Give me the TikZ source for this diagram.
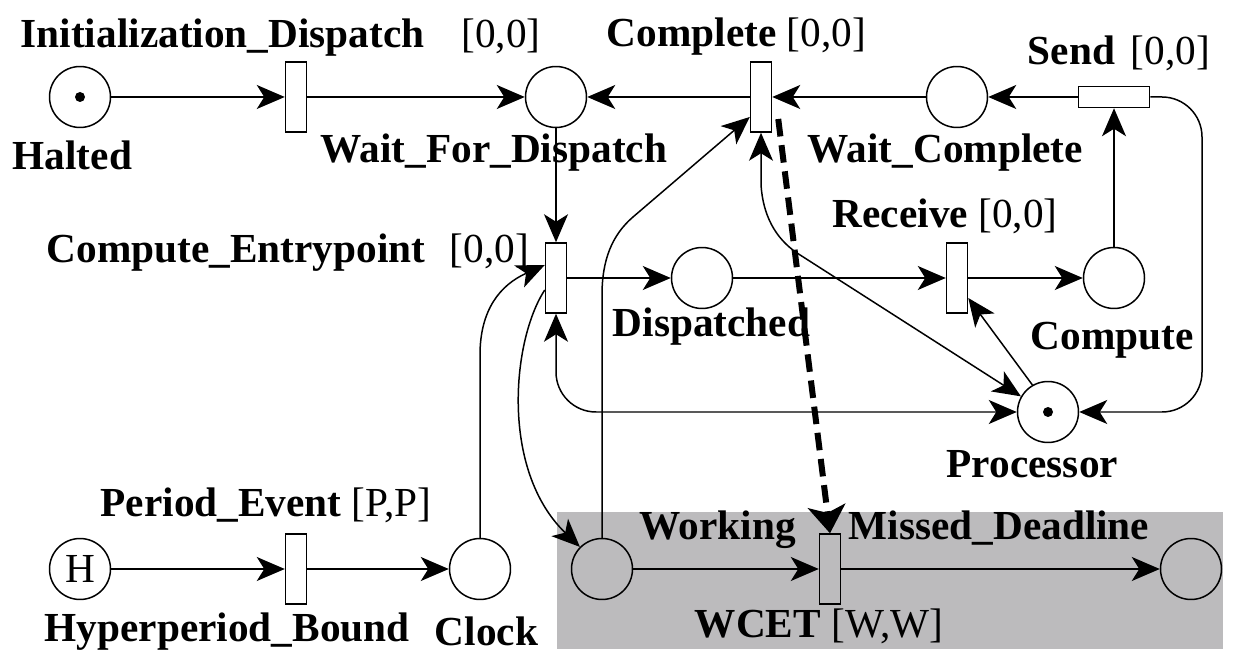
\documentclass[tikz,border=0pt]{standalone}
\usepackage{fontspec}
\setmainfont{Liberation Serif}
\usetikzlibrary{arrows.meta,calc}
\newcommand{\petrifont}{\fontsize{23.5}{28}\selectfont}
\definecolor{boxgray}{RGB}{188,187,189}

\begin{document}
\begin{tikzpicture}[x=0.02cm,y=-0.02cm,line width=0.85pt,
        place/.style={circle,draw,minimum size=1.22cm,inner sep=0pt,font=\petrifont},
        trans/.style={rectangle,draw,minimum width=0.42cm,minimum height=1.4cm,inner sep=0pt},
        htrans/.style={rectangle,draw,minimum width=1.42cm,minimum height=0.42cm,inner sep=0pt},
        lbl/.style={anchor=base west,inner sep=0pt,font=\petrifont\bfseries},
        arc/.style={-{Stealth[length=0.56cm,width=0.48cm,inset=0.15cm]}},
        biarc/.style={{Stealth[length=0.56cm,width=0.48cm,inset=0.15cm]}-{Stealth[length=0.56cm,width=0.48cm,inset=0.15cm]}},
        deadline/.style={line width=0.12cm,dash pattern=on 10pt off 5pt,-{Stealth[length=0.55cm,width=0.75cm,inset=0.14cm]}}]
        \useasboundingbox (0,0) rectangle (1247,661);
        \fill [boxgray] (557,512) rectangle (1223,649);

        \node [place] (Halted) at (80,97) {};
        \node [trans] (InitDispatch) at (296,97) {};
        \node [place] (WaitDispatch) at (556,97) {};
        \node [trans] (Complete) at (761,97) {};
        \node [place] (WaitComplete) at (957,97) {};
        \node [htrans] (Send) at (1114,97) {};
        \node [trans] (ComputeEntry) at (556,278) {};
        \node [place] (Dispatched) at (702,278) {};
        \node [trans] (Receive) at (957,278) {};
        \node [place] (Compute) at (1114,278) {};
        \node [place] (Processor) at (1048,412) {};
        \node [place] (Hyper) at (80,569) {H};
        \node [trans] (PeriodEvent) at (296,569) {};
        \node [place] (Clock) at (480,569) {};
        \node [place] (Working) at (602,569) {};
        \node [trans] (WCET) at (830,569) {};
        \node [place] (Missed) at (1191,569) {};
        \fill (Halted) circle (0.1cm);
        \fill (Processor) circle (0.1cm);

        \foreach \a/\b in {Halted/InitDispatch,InitDispatch/WaitDispatch,Complete/WaitDispatch,
                WaitComplete/Complete,Send/WaitComplete,Compute/Send,WaitDispatch/ComputeEntry,
                ComputeEntry/Dispatched,Dispatched/Receive,Receive/Compute,
                Hyper/PeriodEvent,PeriodEvent/Clock,Working/WCET,WCET/Missed} {
                \draw [arc] (\a) -- (\b);
        }
        \draw [arc,rounded corners=0.8cm] (Send.east) -- (1202,97) -- (1202,412) -- (Processor.east);
        \draw [biarc,rounded corners=0.8cm] (ComputeEntry.south) -- (556,412) -- (Processor.west);
        \draw [arc] (Clock.north) -- (480,355) .. controls (480,310) and (500,285) .. ($(ComputeEntry.west)+(0,-13)$);
        \draw [arc] ($(ComputeEntry.west)+(0,12)$) .. controls (512,340) and (500,470) .. (Working.north west);
        \draw [arc] (Working.north) -- (602,295) .. controls (602,260) and (612,235) .. (633,217) -- ($(Complete.west)+(0,20)$);
        \draw [biarc] (Complete.south) -- (761,185) .. controls (763,215) and (775,238) .. (797,253) -- (Processor.150);
        \draw [arc] (Processor.120) -- ($(Receive.east)+(0,20)$);
        \draw [deadline] ($(Complete.east)+(6,22)$) -- (WCET.north);

        \node [lbl] (lInit) at (20,48) {Initialization\_Dispatch\hspace{21pt}\mdseries[0,0]};
        \node [lbl] (lComplete) at (606,47) {Complete \mdseries[0,0]};
        \node [lbl] (lSend) at (1027,65) {Send\hspace{9pt}\mdseries[0,0]};
        \node [lbl] (lHalted) at (12,170) {Halted};
        \node [lbl] (lWaitDispatch) at (320,163) {Wait\_For\_Dispatch};
        \node [lbl] (lWaitComplete) at (807,163) {Wait\_Complete};
        \node [lbl] (lComputeEntry) at (46,263) {Compute\_Entrypoint\hspace{14pt}\mdseries[0,0]};
        \node [lbl] (lReceive) at (832,228) {Receive \mdseries[0,0]};
        \node [lbl] (lDispatched) at (612,337) {Dispatched};
        \node [lbl] (lCompute) at (1030,350) {Compute};
        \node [lbl] (lProcessor) at (946,478) {Processor};
        \node [lbl] (lPeriod) at (100,517) {Period\_Event \mdseries[P,P]};
        \node [lbl] (lHyper) at (44,642) {Hyperperiod\_Bound};
        \node [lbl] (lClock) at (434,645) {Clock};
        \node [lbl] (lWorking) at (639,540) {Working};
        \node [lbl] (lMissed) at (848,540) {Missed\_Deadline};
        \node [lbl] (lWCET) at (694,638) {WCET \mdseries[W,W]};
\end{tikzpicture}
\end{document}
